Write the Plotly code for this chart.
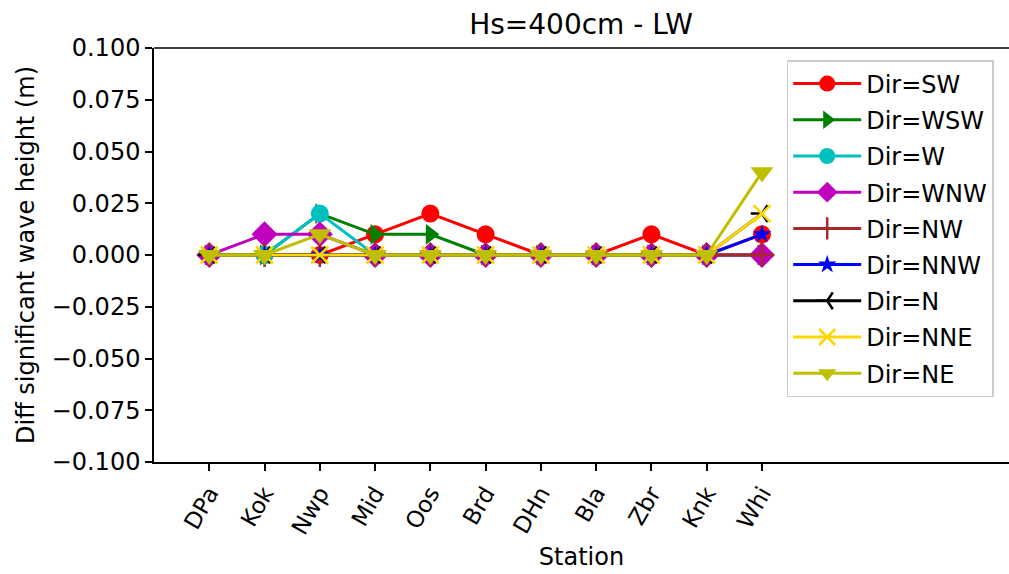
import plotly.graph_objects as go

stations = ["DPa", "Kok", "Nwp", "Mid", "Oos", "Brd", "DHn", "Bla", "Zbr", "Knk", "Whi"]
dir_names = ["Dir=SW", "Dir=WSW", "Dir=W", "Dir=WNW", "Dir=NW", "Dir=NNW", "Dir=N", "Dir=NNE", "Dir=NE"]

sw = [0, 0, 0, 0.01, 0.02, 0.01, 0, 0, 0.01, 0, 0.01]
wsw = [0, 0, 0.02, 0.01, 0.01, 0, 0, 0, 0, 0, 0]
w = [0, 0, 0.02, 0, 0, 0, 0, 0, 0, 0, 0]
wnw = [0, 0.01, 0.01, 0, 0, 0, 0, 0, 0, 0, 0]
nw = [0, 0, 0, 0, 0, 0, 0, 0, 0, 0, 0]
nnw = [0, 0, 0, 0, 0, 0, 0, 0, 0, 0, 0.01]
n = [0, 0, 0, 0, 0, 0, 0, 0, 0, 0, 0.02]
nne = [0, 0, 0, 0, 0, 0, 0, 0, 0, 0, 0.02]
ne = [0, 0, 0.01, 0, 0, 0, 0, 0, 0, 0, 0.04]

series = [sw, wsw, w, wnw, nw, nnw, n, nne, ne]
colors = ["#ff0000", "#008000", "#00bfbf", "#bf00bf", "#a52a2a", "#0000ff", "#000000", "#ffd700", "#bfbf00"]
symbols = ["circle", "triangle-right", "circle", "diamond", "cross-thin", "star", "y-left", "x-thin", "triangle-down"]
sizes = [18, 18, 18, 20, 17, 14, 14, 17, 20]

FONT = "DejaVu Sans"

fig = go.Figure()
for i, (name, vals) in enumerate(zip(dir_names, series)):
    thin = symbols[i] in ("cross-thin", "x-thin", "y-left")
    fig.add_trace(go.Scatter(
        x=stations, y=vals, name=name, mode="lines+markers",
        legendgroup=name,
        line=dict(color=colors[i], width=3),
        marker=dict(symbol=symbols[i], size=sizes[i], color=colors[i],
                    line=dict(color=colors[i], width=2.5 if thin else 0)),
    ))

fig.update_layout(
    width=1009, height=574,
    margin=dict(l=154, r=0, t=48, b=112),
    paper_bgcolor="white", plot_bgcolor="white",
    font=dict(family=FONT, size=24, color="black"),
    title=dict(text="Hs=400cm - LW", x=0.5759, xanchor="center", y=0.958, yanchor="middle",
               font=dict(family=FONT, size=28, color="black")),
    showlegend=True,
    legend=dict(x=0.740, xanchor="left", y=0.971, yanchor="top",
                bgcolor="white", bordercolor="#cccccc", borderwidth=1.5,
                font=dict(family=FONT, size=24, color="black"),
                itemwidth=68, traceorder="grouped", tracegroupgap=2),
    xaxis=dict(
        type="category", range=[-1, 14.47],
        showline=True, linecolor="black", linewidth=1.5,
        ticks="outside", ticklen=7, tickwidth=1.5, tickcolor="black",
        tickangle=-60, showgrid=False, zeroline=False,
        tickfont=dict(family=FONT, size=23),
        title=dict(text="Station", font=dict(family=FONT, size=24), standoff=10),
    ),
    yaxis=dict(
        range=[-0.1, 0.1], tickmode="array",
        tickvals=[-0.1, -0.075, -0.05, -0.025, 0, 0.025, 0.05, 0.075, 0.1],
        tickformat=".3f",
        showline=True, linecolor="black", linewidth=1.5,
        ticks="outside", ticklen=7, tickwidth=1.5, tickcolor="black",
        showgrid=False, zeroline=False,
        tickfont=dict(family=FONT, size=24),
        title=dict(text="Diff significant wave height (m)", font=dict(family=FONT, size=24), standoff=10),
    ),
)

fig.add_shape(type="line", xref="paper", yref="paper", x0=0, x1=1, y0=1, y1=1,
              line=dict(color="black", width=1.5))

fig.write_html("out.html")
